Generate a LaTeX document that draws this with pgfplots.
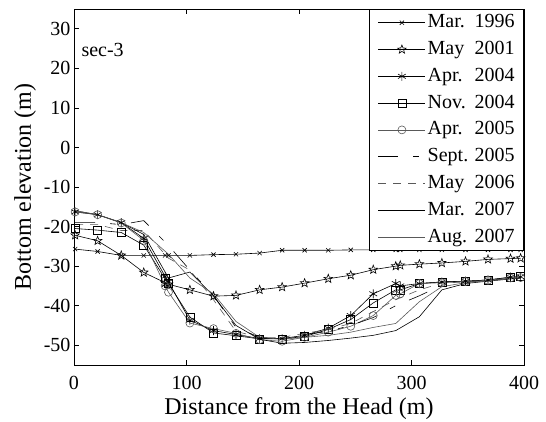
\documentclass[border=0pt]{standalone}
\usepackage{pgfplots}
\pgfplotsset{compat=1.18}
\usepackage{fontspec}
\setmainfont{Liberation Serif}
\usetikzlibrary{plotmarks}
\definecolor{mygray}{gray}{0.35}
\pgfdeclareplotmark{pstar}{%
\pgfpathmoveto{\pgfpointpolar{90}{\pgfplotmarksize}}%
\pgfpathlineto{\pgfpointpolar{126}{0.42\pgfplotmarksize}}%
\pgfpathlineto{\pgfpointpolar{162}{\pgfplotmarksize}}%
\pgfpathlineto{\pgfpointpolar{198}{0.42\pgfplotmarksize}}%
\pgfpathlineto{\pgfpointpolar{234}{\pgfplotmarksize}}%
\pgfpathlineto{\pgfpointpolar{270}{0.42\pgfplotmarksize}}%
\pgfpathlineto{\pgfpointpolar{306}{\pgfplotmarksize}}%
\pgfpathlineto{\pgfpointpolar{342}{0.42\pgfplotmarksize}}%
\pgfpathlineto{\pgfpointpolar{18}{\pgfplotmarksize}}%
\pgfpathlineto{\pgfpointpolar{54}{0.42\pgfplotmarksize}}%
\pgfpathclose\pgfusepathqstroke}
\newcommand{\lgd}[2]{\makebox[47pt][l]{#1}#2}
\begin{document}
\begin{tikzpicture}
\begin{axis}[
  width=450pt, height=356pt, scale only axis,
  xmin=0, xmax=400, ymin=-55, ymax=35,
  xtick={0,100,200,300,400},
  xticklabels={0,100,200,300,400},
  ytick={-50,-40,-30,-20,-10,0,10,20,30},
  yticklabels={-50,-40,-30,-20,-10,0,10,20,30},
  /pgf/number format/assume math mode=true,
  tick align=inside,
  major tick length=5pt,
  tick style={black, line width=0.6pt},
  axis line style={line width=0.8pt},
  ticklabel style={font=\fontsize{20}{24}\selectfont},
  xticklabel style={anchor=base, yshift=-24pt},
  yticklabel style={anchor=east, inner xsep=0pt, xshift=-3.3pt},
  xlabel={Distance from the Head (m)},
  ylabel={Bottom elevation (m)},
  label style={font=\fontsize{24}{28}\selectfont},
  xlabel style={at={(axis description cs:0.5,-0.1404)}, anchor=base},
  ylabel style={at={(axis description cs:-0.1089,0.5)}, anchor=center},
  every axis plot/.append style={line width=0.6pt},
  legend style={at={(1,1)}, anchor=north east, draw=black, line width=0.6pt,
    font=\fontsize{20}{24}\selectfont, inner xsep=9pt, inner ysep=0pt,
    column sep=2pt, row sep=0pt,
    nodes={inner xsep=0pt, inner ysep=3.4pt, text height=15pt, text depth=5pt}},
  legend cell align=left,
  legend image code/.code={\draw[mark repeat=2,mark phase=2,#1] plot coordinates {(0pt,0pt) (23.5pt,0pt) (47pt,0pt)};},
]
% Mar 1996
\addplot[black, mark=x, mark size=3pt, mark options={solid}] coordinates {
(1,-25.7)(21,-26.3)(42,-27.3)(62,-27.3)(81,-27.3)(84,-27.3)(103,-27.3)(124,-27.1)(144,-27)(165,-26.7)(185,-26)(205,-26)(226,-26)(246,-25.9)(266,-25.9)(286,-25.9)(290,-25.9)(307,-25.9)(327,-25.9)(348,-25.9)(368,-25.9)(388,-25.9)(397,-25.9)};
\addlegendentry{\lgd{Mar.}{1996}}
% May 2001
\addplot[black, mark=pstar, mark size=4.5pt, mark options={solid}] coordinates {
(1,-22.2)(21,-23.6)(42,-27.3)(62,-31.6)(81,-34.2)(84,-34.6)(103,-36)(124,-37.6)(144,-37.4)(165,-36)(185,-35.3)(205,-34.3)(226,-33.2)(246,-32.3)(266,-30.9)(286,-30)(290,-29.8)(307,-29.5)(327,-29.2)(348,-28.8)(368,-28.3)(388,-28.1)(397,-28)};
\addlegendentry{\lgd{May}{2001}}
% Apr 2004
\addplot[black, mark=asterisk, mark size=4.5pt, mark options={solid}] coordinates {
(1,-16.3)(21,-17)(42,-19)(62,-23)(81,-32.6)(84,-34)(103,-43.7)(124,-46.3)(144,-47.3)(165,-48.3)(185,-48.3)(205,-47.5)(226,-45.7)(246,-42.5)(266,-37)(286,-34.4)(290,-35)(307,-34.4)(327,-34)(348,-33.8)(368,-33.5)(388,-32.8)(397,-32.7)};
\addlegendentry{\lgd{Apr.}{2004}}
% Nov 2004
\addplot[black, mark=square, mark size=4pt, mark options={solid}] coordinates {
(1,-20.5)(21,-20.9)(42,-21.5)(62,-24.7)(81,-33.2)(84,-34.4)(103,-42.9)(124,-46.9)(144,-47.6)(165,-48.4)(185,-48.4)(205,-47.8)(226,-46)(246,-43.5)(266,-39.3)(286,-36)(290,-36)(307,-34.4)(327,-34)(348,-33.8)(368,-33.5)(388,-32.8)(397,-32.7)};
\addlegendentry{\lgd{Nov.}{2004}}
% Apr 2005
\addplot[mygray, mark=o, mark size=4pt, mark options={solid}] coordinates {
(1,-16.3)(21,-17)(42,-19.1)(62,-23.5)(81,-35)(84,-36.6)(103,-44.4)(124,-45.8)(144,-47)(165,-48.6)(185,-49)(205,-48)(226,-46.7)(246,-45.2)(266,-42.5)(286,-37.4)(290,-37)(307,-34.4)(327,-34.2)(348,-33.9)(368,-33.6)(388,-33)(397,-32.9)};
\addlegendentry{\lgd{Apr.}{2005}}
% Sept 2005
\addplot[black, dash pattern=on 20pt off 15pt on 6pt off 15pt] coordinates {
(1,-19)(21,-19)(42,-19.5)(62,-18.5)(84,-24.8)(103,-31)(124,-37.5)(144,-45.5)(165,-48)(185,-48)(205,-47.3)(226,-46.5)(246,-45)(266,-43)(286,-40)(307,-37.5)(327,-34.8)(348,-34)(368,-33.6)(397,-33)};
\addlegendentry{\lgd{Sept.}{2005}}
% May 2006
\addplot[mygray, dash pattern=on 8pt off 7pt] coordinates {
(1,-19.5)(21,-19.5)(42,-21)(62,-21)(84,-28)(103,-31)(124,-38.5)(144,-46.5)(165,-48)(185,-48)(205,-47)(226,-46)(246,-44.5)(266,-41.5)(286,-38.5)(307,-36)(327,-34.3)(348,-34)(368,-33.6)(397,-33)};
\addlegendentry{\lgd{May}{2006}}
% Mar 2007
\addplot[black] coordinates {
(1,-16)(21,-17)(42,-19)(62,-22)(84,-33)(103,-31.5)(124,-37.5)(144,-45)(165,-48.5)(185,-49.5)(205,-49.3)(226,-48.8)(246,-48.2)(266,-47.5)(286,-46.3)(307,-42.8)(327,-36)(348,-34.4)(368,-33.8)(397,-33)};
\addlegendentry{\lgd{Mar.}{2007}}
% Aug 2007
\addplot[mygray] coordinates {
(1,-16)(21,-17)(42,-19)(62,-21.5)(84,-27)(103,-33)(124,-37)(144,-44)(165,-48)(185,-48.5)(205,-48)(226,-47.5)(246,-46.7)(266,-45.5)(286,-44.5)(307,-39)(327,-35.2)(348,-34.2)(368,-33.7)(397,-33)};
\addlegendentry{\lgd{Aug.}{2007}}
\node[anchor=base west, inner sep=0pt, font=\fontsize{20}{24}\selectfont] at (axis cs:6.5,23.1) {sec-3};
\end{axis}
\pgfresetboundingbox
\path[use as bounding box] (current axis.south west) ++(-74pt,-56pt) rectangle ++(546pt,421pt);
\end{tikzpicture}
\end{document}
